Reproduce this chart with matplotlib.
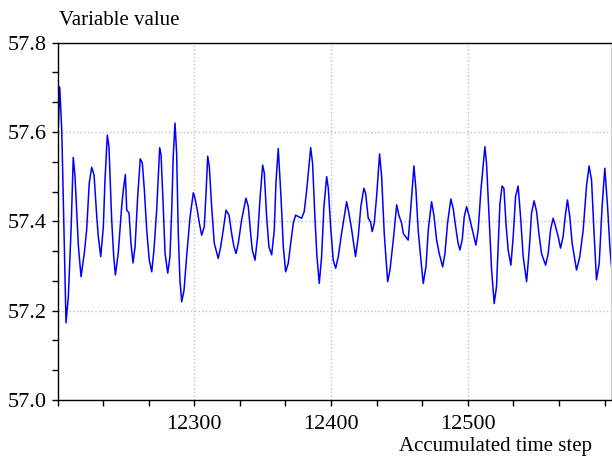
import matplotlib
matplotlib.use("Agg")
import matplotlib.pyplot as plt
from matplotlib.ticker import MultipleLocator, FixedLocator, FormatStrFormatter

plt.rcParams['font.family'] = ['Liberation Serif', 'DejaVu Serif']

time_step = [12200.6, 12201.6, 12203.1, 12206.2, 12207.9, 12209.9, 12211.5, 12212.8, 12214.3, 12215.2,
             12217.2, 12219.6, 12221.3, 12223.2, 12225.0, 12226.7, 12228.7, 12229.8, 12231.6, 12233.5,
             12234.7, 12236.4, 12237.6, 12239.6, 12241.1, 12242.3, 12244.4, 12246.9, 12248.1, 12249.6,
             12250.6, 12252.3, 12253.7, 12255.2, 12256.7, 12258.6, 12260.5, 12262.0, 12263.5, 12265.2,
             12267.1, 12268.9, 12270.5, 12272.5, 12274.7, 12275.7, 12277.3, 12278.6, 12280.6, 12282.2,
             12283.5, 12284.6, 12285.9, 12287.1, 12288.3, 12289.5, 12290.8, 12292.5, 12294.4, 12296.9,
             12299.3, 12300.5, 12302.2, 12303.7, 12305.4, 12307.3, 12308.6, 12309.8, 12311.0, 12312.7,
             12314.6, 12317.5, 12319.3, 12321.2, 12323.2, 12325.4, 12327.3, 12329.0, 12330.5, 12332.2,
             12334.6, 12337.8, 12339.5, 12341.2, 12342.4, 12344.4, 12346.3, 12348.0, 12350.0, 12351.2,
             12352.9, 12354.6, 12356.6, 12358.5, 12359.7, 12361.4, 12363.4, 12365.1, 12366.8, 12368.7,
             12370.5, 12372.4, 12374.1, 12376.5, 12378.5, 12380.4, 12382.2, 12385.1, 12386.5, 12388.2,
             12389.7, 12391.4, 12393.1, 12394.8, 12396.8, 12398.0, 12399.7, 12401.6, 12403.4, 12405.3,
             12407.7, 12411.4, 12413.1, 12415.1, 12417.9, 12419.9, 12421.8, 12424.0, 12425.3, 12427.2,
             12428.9, 12430.1, 12431.6, 12433.3, 12435.5, 12437.0, 12438.9, 12441.4, 12443.1, 12445.5,
             12448.0, 12449.6, 12451.6, 12452.8, 12454.5, 12456.4, 12458.2, 12460.6, 12462.1, 12463.7,
             12465.5, 12467.4, 12469.4, 12471.1, 12473.5, 12475.2, 12477.2, 12479.1, 12481.6, 12483.3,
             12485.2, 12487.6, 12489.3, 12491.3, 12492.9, 12494.2, 12495.9, 12497.4, 12499.1, 12500.8,
             12502.8, 12504.5, 12505.9, 12507.6, 12509.6, 12512.5, 12513.7, 12515.4, 12517.4, 12519.3,
             12521.0, 12521.8, 12523.5, 12525.1, 12526.4, 12527.9, 12529.5, 12531.5, 12533.2, 12534.9,
             12536.8, 12538.6, 12540.5, 12543.0, 12544.9, 12546.6, 12548.5, 12550.3, 12552.0, 12553.9,
             12556.9, 12558.8, 12560.5, 12562.4, 12564.2, 12566.1, 12567.8, 12569.7, 12571.5, 12572.9,
             12574.6, 12576.3, 12579.5, 12581.9, 12584.4, 12586.8, 12588.7, 12590.5, 12592.2, 12594.1,
             12596.1, 12598.2, 12600.2, 12602.2, 12603.9, 12605.1]

variable_value = [57.612, 57.701, 57.604, 57.173, 57.231, 57.381, 57.543, 57.500, 57.403, 57.347,
                  57.276, 57.329, 57.381, 57.486, 57.521, 57.504, 57.410, 57.366, 57.321, 57.388,
                  57.492, 57.593, 57.567, 57.403, 57.321, 57.280, 57.329, 57.433, 57.470, 57.505,
                  57.425, 57.419, 57.351, 57.307, 57.343, 57.455, 57.540, 57.531, 57.470, 57.381,
                  57.313, 57.287, 57.336, 57.425, 57.565, 57.549, 57.433, 57.329, 57.284, 57.321,
                  57.425, 57.545, 57.620, 57.552, 57.373, 57.269, 57.220, 57.246, 57.321, 57.410,
                  57.464, 57.452, 57.425, 57.396, 57.369, 57.388, 57.463, 57.546, 57.522, 57.433,
                  57.351, 57.317, 57.343, 57.381, 57.425, 57.414, 57.373, 57.343, 57.328, 57.351,
                  57.403, 57.452, 57.433, 57.373, 57.336, 57.313, 57.366, 57.448, 57.526, 57.508,
                  57.410, 57.343, 57.325, 57.381, 57.485, 57.563, 57.455, 57.343, 57.287, 57.306,
                  57.351, 57.396, 57.414, 57.410, 57.407, 57.422, 57.470, 57.565, 57.530, 57.410,
                  57.321, 57.261, 57.321, 57.433, 57.500, 57.474, 57.388, 57.313, 57.295, 57.321,
                  57.373, 57.444, 57.418, 57.381, 57.321, 57.366, 57.433, 57.474, 57.463, 57.407,
                  57.399, 57.377, 57.396, 57.455, 57.551, 57.500, 57.373, 57.265, 57.291, 57.358,
                  57.437, 57.414, 57.396, 57.373, 57.366, 57.358, 57.425, 57.524, 57.470, 57.381,
                  57.321, 57.261, 57.298, 57.381, 57.444, 57.414, 57.358, 57.328, 57.298, 57.328,
                  57.396, 57.450, 57.429, 57.384, 57.351, 57.336, 57.358, 57.410, 57.433, 57.414,
                  57.388, 57.366, 57.347, 57.381, 57.470, 57.567, 57.530, 57.418, 57.291, 57.216,
                  57.254, 57.313, 57.440, 57.479, 57.474, 57.396, 57.336, 57.302, 57.366, 57.455,
                  57.479, 57.410, 57.321, 57.265, 57.336, 57.418, 57.446, 57.422, 57.373, 57.328,
                  57.302, 57.328, 57.381, 57.407, 57.388, 57.366, 57.340, 57.366, 57.418, 57.448,
                  57.410, 57.351, 57.291, 57.321, 57.381, 57.479, 57.524, 57.492, 57.381, 57.269,
                  57.306, 57.433, 57.519, 57.433, 57.343, 57.298]

x_major = [12300, 12400, 12500]
x_labels = ["12300", "12400", "12500"]
y_major = [57.0, 57.2, 57.4, 57.6, 57.8]

fig = plt.figure(figsize=(6.12, 4.59), dpi=100)
ax = fig.add_axes([0.094, 0.1285, 0.905, 0.7785])

ax.plot(time_step, variable_value, color='#0000ff', lw=1.1)

ax.set_xlim(12200, 12605)
ax.set_ylim(57.0, 57.8)

ax.xaxis.set_major_locator(FixedLocator(x_major))
ax.set_xticklabels(x_labels)
ax.xaxis.set_minor_locator(MultipleLocator(100 / 3))
ax.yaxis.set_major_locator(FixedLocator(y_major))
ax.yaxis.set_major_formatter(FormatStrFormatter('%.1f'))
ax.yaxis.set_minor_locator(MultipleLocator(0.2 / 3))

ax.tick_params(axis='both', which='both', direction='out', length=4, width=1,
               labelsize=16, colors='black')
ax.tick_params(axis='x', which='major', pad=7)
ax.tick_params(axis='y', which='major', pad=4)

ax.grid(True, which='major', linestyle=':', color='#c0c0c0', lw=1)
ax.set_axisbelow(True)

for s in ['left', 'bottom', 'top']:
    ax.spines[s].set_color('black')
    ax.spines[s].set_linewidth(1)
ax.spines['right'].set_color('#d0d0d0')

fig.text(0.096, 0.955, "Variable value", fontsize=15, ha='left', va='center')
fig.text(0.968, 0.028, "Accumulated time step", fontsize=15, ha='right', va='center')

fig.savefig("out.png", dpi=100)
